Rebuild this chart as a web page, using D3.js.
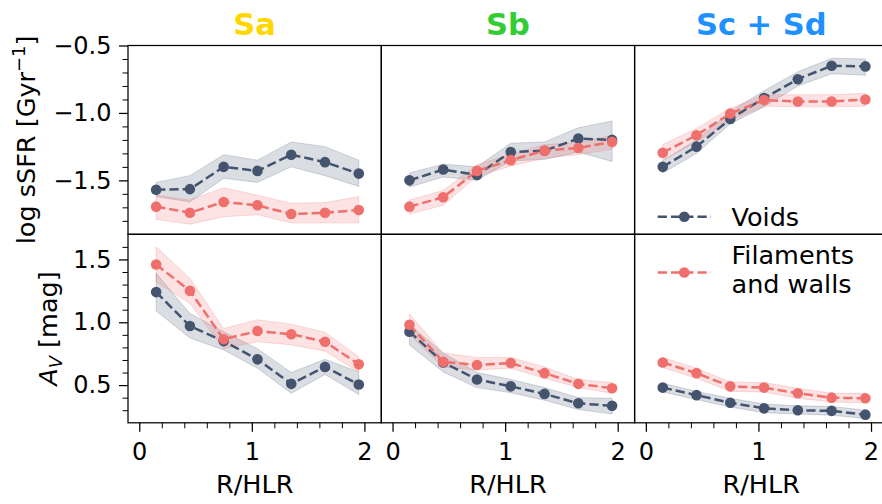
<!DOCTYPE html>
<html>
<head>
<meta charset="utf-8">
<script src="https://cdn.jsdelivr.net/npm/d3@7"></script>
<style>
  html, body { margin: 0; padding: 0; background: #fff; }
  svg { display: block; font-family: "DejaVu Sans", sans-serif; }
</style>
</head>
<body>
<svg id="chart" width="882" height="504"></svg>
<script>
// ---------- data ----------
const radius = [0.15, 0.45, 0.75, 1.05, 1.35, 1.65, 1.95];
const morphTypes = ["Sa", "Sb", "Sc + Sd"];
const titleColors = ["#FFD700", "#32CD32", "#1E90FF"];
const seriesNames = ["Voids", "Filaments\nand walls"];

// log sSFR  (rows: Sa, Sb, Sc+Sd)
const ssfrVoids = [
  [-1.57, -1.565, -1.40, -1.43, -1.31, -1.365, -1.45],
  [-1.50, -1.42, -1.46, -1.29, -1.28, -1.19, -1.20],
  [-1.40, -1.25, -1.045, -0.89, -0.75, -0.65, -0.655]
];
const ssfrVoidsLo = [
  [-1.62, -1.66, -1.485, -1.515, -1.40, -1.465, -1.545],
  [-1.55, -1.475, -1.50, -1.355, -1.345, -1.29, -1.36],
  [-1.445, -1.30, -1.08, -0.955, -0.80, -0.71, -0.72]
];
const ssfrVoidsHi = [
  [-1.515, -1.465, -1.31, -1.35, -1.215, -1.25, -1.35],
  [-1.445, -1.38, -1.40, -1.225, -1.215, -1.11, -1.06],
  [-1.355, -1.20, -0.99, -0.835, -0.695, -0.595, -0.60]
];
const ssfrFil = [
  [-1.695, -1.74, -1.66, -1.685, -1.75, -1.74, -1.72],
  [-1.695, -1.625, -1.43, -1.35, -1.28, -1.26, -1.215],
  [-1.295, -1.165, -1.005, -0.905, -0.915, -0.915, -0.90]
];
const ssfrFilLo = [
  [-1.79, -1.825, -1.77, -1.755, -1.815, -1.815, -1.815],
  [-1.75, -1.685, -1.47, -1.395, -1.335, -1.31, -1.27],
  [-1.35, -1.215, -1.055, -0.95, -0.955, -0.955, -0.95]
];
const ssfrFilHi = [
  [-1.61, -1.645, -1.555, -1.61, -1.67, -1.665, -1.62],
  [-1.645, -1.575, -1.385, -1.305, -1.235, -1.22, -1.165],
  [-1.235, -1.115, -0.965, -0.865, -0.865, -0.865, -0.855]
];

// A_V
const avVoids = [
  [1.24, 0.97, 0.85, 0.705, 0.51, 0.645, 0.505],
  [0.925, 0.68, 0.545, 0.49, 0.43, 0.355, 0.335],
  [0.48, 0.42, 0.36, 0.315, 0.30, 0.295, 0.265]
];
const avVoidsLo = [
  [1.09, 0.875, 0.78, 0.635, 0.435, 0.585, 0.425],
  [0.82, 0.605, 0.48, 0.44, 0.38, 0.305, 0.27],
  [0.445, 0.385, 0.325, 0.28, 0.27, 0.26, 0.235]
];
const avVoidsHi = [
  [1.39, 1.07, 0.925, 0.79, 0.60, 0.705, 0.605],
  [0.98, 0.755, 0.60, 0.545, 0.48, 0.40, 0.395],
  [0.515, 0.45, 0.395, 0.35, 0.335, 0.33, 0.30]
];
const avFil = [
  [1.46, 1.25, 0.865, 0.93, 0.905, 0.845, 0.665],
  [0.98, 0.685, 0.66, 0.675, 0.595, 0.51, 0.475],
  [0.68, 0.595, 0.49, 0.48, 0.435, 0.40, 0.395]
];
const avFilLo = [
  [1.32, 1.15, 0.79, 0.845, 0.82, 0.77, 0.605],
  [0.90, 0.645, 0.62, 0.635, 0.555, 0.48, 0.435],
  [0.64, 0.555, 0.45, 0.445, 0.395, 0.365, 0.36]
];
const avFilHi = [
  [1.60, 1.35, 0.95, 1.02, 0.985, 0.92, 0.725],
  [1.065, 0.755, 0.72, 0.72, 0.645, 0.545, 0.52],
  [0.72, 0.635, 0.525, 0.52, 0.475, 0.435, 0.435]
];

const xTicks = [0, 1, 2];
const ssfrTicks = [-1.5, -1.0, -0.5];
const avTicks = [0.5, 1.0, 1.5];

// ---------- layout ----------
const colors = ["#44546f", "#ef6f6c"];
const panelLeft = 128, panelW = 253.3;
const rowTop = [45.5, 234.3], rowH = [188.8, 188.5];
const svg = d3.select("#chart");

const rows = [
  { domain: [-1.9, -0.5], ticks: ssfrTicks, series: [[ssfrVoids, ssfrVoidsLo, ssfrVoidsHi], [ssfrFil, ssfrFilLo, ssfrFilHi]] },
  { domain: [0.2, 1.7], ticks: avTicks, series: [[avVoids, avVoidsLo, avVoidsHi], [avFil, avFilLo, avFilHi]] }
];

const fmt = d3.format(".1f");

rows.forEach((row, ri) => {
  const y = d3.scaleLinear().domain(row.domain).range([rowTop[ri] + rowH[ri], rowTop[ri]]);
  morphTypes.forEach((mt, ci) => {
    const x0 = panelLeft + ci * panelW;
    const x = d3.scaleLinear().domain([-0.1, 2.15]).range([x0, x0 + panelW]);
    const g = svg.append("g");

    row.series.forEach((s, si) => {
      const [mean, lo, hi] = s.map(a => a[ci]);
      const pts = radius.map((r, i) => ({ r, m: mean[i], lo: lo[i], hi: hi[i] }));
      const area = d3.area().x(d => x(d.r)).y0(d => y(d.lo)).y1(d => y(d.hi));
      g.append("path").attr("d", area(pts))
        .attr("fill", colors[si]).attr("fill-opacity", 0.2)
        .attr("stroke", colors[si]).attr("stroke-opacity", 0.22).attr("stroke-width", 1);
    });
    row.series.forEach((s, si) => {
      const mean = s[0][ci];
      const pts = radius.map((r, i) => ({ r, m: mean[i] }));
      const line = d3.line().x(d => x(d.r)).y(d => y(d.m));
      g.append("path").attr("d", line(pts)).attr("fill", "none")
        .attr("stroke", colors[si]).attr("stroke-width", 2.5)
        .attr("stroke-dasharray", "9.25,4");
      g.selectAll(null).data(pts).enter().append("circle")
        .attr("cx", d => x(d.r)).attr("cy", d => y(d.m)).attr("r", 5.3)
        .attr("fill", colors[si]);
    });

    // frame
    svg.append("rect").attr("x", x0).attr("y", rowTop[ri]).attr("width", panelW).attr("height", rowH[ri])
      .attr("fill", "none").attr("stroke", "#000").attr("stroke-width", 1.25);

    // y axis on first column
    if (ci === 0) {
      const minor = d3.range(Math.round(row.domain[0] * 10) + 1, Math.round(row.domain[1] * 10)).map(v => v / 10)
        .filter(v => !row.ticks.some(t => Math.abs(t - v) < 1e-6));
      const ga = svg.append("g").attr("transform", `translate(${x0},0)`)
        .call(d3.axisLeft(y).tickValues(row.ticks).tickFormat(fmt).tickSize(9).tickPadding(7.5));
      ga.select(".domain").remove();
      ga.selectAll("line").attr("stroke", "#000").attr("stroke-width", 1.25);
      ga.selectAll("text").attr("font-size", 24).attr("font-family", "DejaVu Sans").attr("fill", "#000");
      const gm = svg.append("g").attr("transform", `translate(${x0},0)`)
        .call(d3.axisLeft(y).tickValues(minor).tickFormat("").tickSize(5.5));
      gm.select(".domain").remove();
      gm.selectAll("line").attr("stroke", "#000").attr("stroke-width", 1);
    }

    // x axis on bottom row
    if (ri === 1) {
      const yb = rowTop[ri] + rowH[ri];
      const ga = svg.append("g").attr("transform", `translate(0,${yb})`)
        .call(d3.axisBottom(x).tickValues(xTicks).tickFormat(d3.format("d")).tickSize(9).tickPadding(11));
      ga.select(".domain").remove();
      ga.selectAll("line").attr("stroke", "#000").attr("stroke-width", 1.25);
      ga.selectAll("text").attr("font-size", 24).attr("font-family", "DejaVu Sans").attr("fill", "#000");
      const minorX = d3.range(1, 10).map(v => v / 5).filter(v => !xTicks.includes(v));
      const gm = svg.append("g").attr("transform", `translate(0,${yb})`)
        .call(d3.axisBottom(x).tickValues(minorX).tickFormat("").tickSize(5.5));
      gm.select(".domain").remove();
      gm.selectAll("line").attr("stroke", "#000").attr("stroke-width", 1);

      svg.append("text").attr("x", x0 + panelW / 2).attr("y", 493.3)
        .attr("text-anchor", "middle").attr("font-size", 25.5).text("R/HLR");
    }

    if (ri === 0) {
      svg.append("text").attr("x", x0 + panelW / 2).attr("y", 35)
        .attr("text-anchor", "middle").attr("font-size", 30.5).attr("font-weight", "bold")
        .attr("fill", titleColors[ci]).text(mt);
    }
  });
});

// y labels
const yl1 = svg.append("text").attr("transform", `translate(34.5,${rowTop[0] + rowH[0] / 2}) rotate(-90)`)
  .attr("text-anchor", "middle").attr("font-size", 25.5);
yl1.append("tspan").text("log sSFR [Gyr");
yl1.append("tspan").attr("font-size", 18).attr("dy", -10).text("−1");
yl1.append("tspan").attr("dy", 10).text("]");

const yl2 = svg.append("text").attr("transform", `translate(57,${rowTop[1] + rowH[1] / 2}) rotate(-90)`)
  .attr("text-anchor", "middle").attr("font-size", 25.5);
yl2.append("tspan").attr("font-style", "italic").text("A");
yl2.append("tspan").attr("font-size", 18).attr("font-style", "italic").attr("dy", 5).text("V");
yl2.append("tspan").attr("dy", -5).text(" [mag]");

// legend
const leg = svg.append("g");
const legY = [216.7, 272.5];
seriesNames.forEach((name, i) => {
  leg.append("line").attr("x1", 657.7).attr("x2", 711).attr("y1", legY[i]).attr("y2", legY[i])
    .attr("stroke", colors[i]).attr("stroke-width", 2.5).attr("stroke-dasharray", "9.25,4");
  leg.append("circle").attr("cx", 684.3).attr("cy", legY[i]).attr("r", 5.3).attr("fill", colors[i]);
  const lines = name.split("\n");
  const baseY = i === 0 ? [225.5] : [264, 293];
  lines.forEach((t, k) => {
    leg.append("text").attr("x", 731.5).attr("y", baseY[k]).attr("font-size", 25.5).text(t);
  });
});
</script>
</body>
</html>
